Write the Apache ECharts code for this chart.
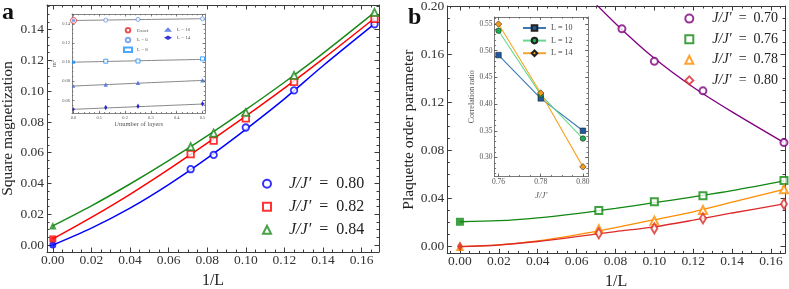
<!DOCTYPE html>
<html><head><meta charset="utf-8">
<script src="https://cdn.jsdelivr.net/npm/echarts@6/dist/echarts.min.js"></script>
<style>html,body{margin:0;padding:0;background:#fff}#c{width:789px;height:289px}</style>
</head><body><div id="c"></div><script>
// ---------- data ----------
const invLA = [1/14, 1/12, 1/10, 1/8, 1/6];
const magA080 = [0.0493, 0.0586, 0.0764, 0.1005, 0.1435];
const magA082 = [0.0591, 0.0679, 0.0823, 0.1060, 0.1470];
const magA084 = [0.0640, 0.0728, 0.0862, 0.1103, 0.1512];
const magA0 = [0.0000, 0.0040, 0.0125];          // extrapolated values at 1/L = 0
const fitXA = [0, 0.02, 0.04, 0.06, 0.08, 0.10, 0.12, 0.14, 1/6];
const fitA080 = [0.0000, 0.0110, 0.0240, 0.0393, 0.0565, 0.0752, 0.0950, 0.1165, 0.1437];
const fitA082 = [0.0040, 0.0180, 0.0330, 0.0492, 0.0662, 0.0838, 0.1020, 0.1210, 0.1474];
const fitA084 = [0.0125, 0.0255, 0.0397, 0.0549, 0.0710, 0.0880, 0.1058, 0.1246, 0.1512];

const layersX = [0.125, 0.25, 0.5];
const m2L6  = [0.1440, 0.1448, 0.1455];
const m2L8  = [0.1010, 0.1012, 0.1035];
const m2L10 = [0.0767, 0.0785, 0.0810];
const m2L14 = [0.0524, 0.0537, 0.0565];
const m2Zero = [0.1437, 0.1000, 0.0750, 0.0506]; // L=6,8,10,14 at 1/layers = 0
const m2Exact = 0.1437;
const fitLayersX = [0, 0.51];
const fitL6  = [0.1437, 0.1456];
const fitL8  = [0.1000, 0.1030];
const fitL10 = [0.0750, 0.0810];
const fitL14 = [0.0506, 0.0562];

const invLB  = [1/14, 1/10, 1/8, 1/6];
const invLB70 = [1/12, 1/10, 1/8, 1/6];
const plB070 = [0.1810, 0.1540, 0.1295, 0.0865];
const plB076 = [0.0300, 0.0374, 0.0423, 0.0549];
const plB078 = [0.0145, 0.0216, 0.0305, 0.0478];
const plB080 = [0.0111, 0.0152, 0.0235, 0.0355];
const plB0 = [0.0207, 0.0000, 0.0003];          // J/J'=0.76, 0.78, 0.80 at 1/L = 0
const fitXB70 = [0.06, 0.08, 0.10, 0.12, 0.14, 1/6];
const fitB070 = [0.2180, 0.1855, 0.1565, 0.1325, 0.1120, 0.0865];
const fitXB = [0, 0.02, 0.04, 0.06, 0.08, 0.10, 0.12, 0.14, 1/6];
const fitB076 = [0.0207, 0.0216, 0.0240, 0.0275, 0.0318, 0.0366, 0.0414, 0.0465, 0.0546];
const fitB078 = [0.0000, 0.0015, 0.0048, 0.0098, 0.0158, 0.0224, 0.0290, 0.0370, 0.0476];
const fitB080 = [0.0000, 0.0014, 0.0043, 0.0083, 0.0125, 0.0165, 0.0220, 0.0280, 0.0355];

const ratioX = [0.76, 0.78, 0.80];
const ratioL10 = [0.4915, 0.4105, 0.3500];
const ratioL12 = [0.5370, 0.4175, 0.3355];
const ratioL14 = [0.5495, 0.4205, 0.2825];

// tick labels
const ticksXMain = [0, 0.02, 0.04, 0.06, 0.08, 0.10, 0.12, 0.14, 0.16];
const ticksYA = [0, 0.02, 0.04, 0.06, 0.08, 0.10, 0.12, 0.14];
const ticksYB = [0, 0.04, 0.08, 0.12, 0.16, 0.20];
const ticksXInsA = [0, 0.1, 0.2, 0.3, 0.4, 0.5];
const ticksYInsA = [0.06, 0.08, 0.10, 0.12, 0.14];
const ticksXInsB = [0.76, 0.78, 0.80];
const ticksYInsB = [0.30, 0.35, 0.40, 0.45, 0.50, 0.55];

// ---------- helpers ----------
const FONT = "'Liberation Serif','DejaVu Serif',serif";
const zip = (xs, ys) => xs.map((x, i) => [x, ys[i]]);
function steps(min, max, step) {
  const out = [];
  for (let k = Math.ceil(min / step - 1e-9); k * step <= max + 1e-12; k++) out.push(+(k * step).toFixed(6));
  return out;
}
const xAxes = [], yAxes = [];
function addFrame(g, o) {
  const line = {color: o.lineColor, width: o.lineWidth};
  const lab = {fontFamily: FONT, fontSize: o.fontSize, color: o.labelColor};
  const res = {x: xAxes.length, y: yAxes.length};
  const bx = {gridIndex: g, type: 'value', min: o.xmin, max: o.xmax, splitLine: {show: false}, z: o.z, silent: true};
  const by = {gridIndex: g, type: 'value', min: o.ymin, max: o.ymax, splitLine: {show: false}, z: o.z, silent: true};
  const mx = steps(o.xmin, o.xmax, o.xMinorStep), my = steps(o.ymin, o.ymax, o.yMinorStep);
  xAxes.push(Object.assign({}, bx, {position: 'bottom',
    axisLine: {show: true, onZero: false, lineStyle: line},
    axisTick: {show: true, inside: true, length: o.major, customValues: o.xMajor, lineStyle: line},
    axisLabel: Object.assign({show: true, customValues: o.xMajor, formatter: v => v.toFixed(o.xDec), margin: o.xMargin}, lab),
    name: o.xName, nameLocation: 'middle', nameGap: o.xNameGap, nameTextStyle: o.xNameStyle}));
  xAxes.push(Object.assign({}, bx, {position: 'bottom', axisLine: {show: false, onZero: false},
    axisTick: {show: true, inside: true, length: o.minor, customValues: mx, lineStyle: line}, axisLabel: {show: false}}));
  xAxes.push(Object.assign({}, bx, {position: 'top', axisLine: {show: true, onZero: false, lineStyle: line},
    axisTick: {show: true, inside: true, length: o.major, customValues: o.xMajor, lineStyle: line}, axisLabel: {show: false}}));
  xAxes.push(Object.assign({}, bx, {position: 'top', axisLine: {show: false, onZero: false},
    axisTick: {show: true, inside: true, length: o.minor, customValues: mx, lineStyle: line}, axisLabel: {show: false}}));
  yAxes.push(Object.assign({}, by, {position: 'left',
    axisLine: {show: true, onZero: false, lineStyle: line},
    axisTick: {show: true, inside: true, length: o.major, customValues: o.yMajor, lineStyle: line},
    axisLabel: Object.assign({show: true, customValues: o.yMajor, formatter: v => v.toFixed(o.yDec), margin: o.yMargin}, lab),
    name: o.yName, nameLocation: 'middle', nameGap: o.yNameGap, nameTextStyle: o.yNameStyle}));
  yAxes.push(Object.assign({}, by, {position: 'left', axisLine: {show: false, onZero: false},
    axisTick: {show: true, inside: true, length: o.minor, customValues: my, lineStyle: line}, axisLabel: {show: false}}));
  yAxes.push(Object.assign({}, by, {position: 'right', axisLine: {show: true, onZero: false, lineStyle: line},
    axisTick: {show: true, inside: true, length: o.major, customValues: o.yMajor, lineStyle: line}, axisLabel: {show: false}}));
  yAxes.push(Object.assign({}, by, {position: 'right', axisLine: {show: false, onZero: false},
    axisTick: {show: true, inside: true, length: o.minor, customValues: my, lineStyle: line}, axisLabel: {show: false}}));
  return res;
}

// ---------- grids / frames ----------
const grids = [
  {left: 47, top: 5, width: 332, height: 247, outerBoundsMode: 'none', containLabel: false},
  {left: 72, top: 14, width: 133, height: 99.3, show: true, backgroundColor: '#fff', borderWidth: 0, z: 10, outerBoundsMode: 'none', containLabel: false},
  {left: 447.3, top: 6, width: 337.7, height: 247.3, outerBoundsMode: 'none', containLabel: false},
  {left: 494.5, top: 17, width: 93.5, height: 159.5, show: true, backgroundColor: '#fff', borderWidth: 0, z: 10, outerBoundsMode: 'none', containLabel: false}
];
const mainStyle = {lineColor: '#3a3a3a', lineWidth: 1, fontSize: 13.5, labelColor: '#333', major: 4.5, minor: 2.5, z: 1, xDec: 2, yDec: 2, xMargin: 1.5, yMargin: 3};
const nameMain = {fontFamily: FONT, fontSize: 15.5, color: '#222'};
const A = addFrame(0, Object.assign({}, mainStyle, {
  xmin: -0.003, xmax: 0.169, ymin: -0.0045, ymax: 0.156,
  xMajor: ticksXMain, yMajor: ticksYA, xMinorStep: 0.005, yMinorStep: 0.005,
  xName: '1/L', xNameGap: 20, xNameStyle: Object.assign({}, nameMain, {fontSize: 16}),
  yName: 'Square magnetization', yNameGap: 31, yNameStyle: nameMain}));
const IA = addFrame(1, {
  lineColor: '#666', lineWidth: 0.8, fontSize: 4.5, labelColor: '#555', major: 2.5, minor: 1.3, z: 11, xDec: 1, yDec: 2, xMargin: 2, yMargin: 2,
  xmin: -0.0058, xmax: 0.5097, ymin: 0.0464, ymax: 0.1505,
  xMajor: ticksXInsA, yMajor: ticksYInsA, xMinorStep: 0.02, yMinorStep: 0.005,
  xName: '1/number of layers', xNameGap: 7, xNameStyle: {fontFamily: FONT, fontSize: 6.5, color: '#555'},
  yName: 'm²', yNameGap: 13, yNameStyle: {fontFamily: FONT, fontSize: 6.5, color: '#555'}});
const B = addFrame(2, Object.assign({}, mainStyle, {
  xmin: -0.0065, xmax: 0.1672, ymin: -0.0055, ymax: 0.2,
  xMajor: ticksXMain, yMajor: ticksYB, xMinorStep: 0.005, yMinorStep: 0.01,
  xName: '1/L', xNameGap: 20, xNameStyle: Object.assign({}, nameMain, {fontSize: 16}),
  yName: 'Plaquette order parameter', yNameGap: 25, yNameStyle: nameMain}));
const IB = addFrame(3, {
  lineColor: '#555', lineWidth: 0.8, fontSize: 7.5, labelColor: '#555', major: 3, minor: 1.6, z: 11, xDec: 2, yDec: 2, xMargin: 2, yMargin: 2,
  xmin: 0.7581, xmax: 0.8024, ymin: 0.2645, ymax: 0.5627,
  xMajor: ticksXInsB, yMajor: ticksYInsB, xMinorStep: 0.005, yMinorStep: 0.01,
  xName: '{i|J/J′}', xNameGap: 5, xNameStyle: {fontFamily: FONT, fontSize: 9, color: '#555', rich: {i: {fontFamily: FONT, fontStyle: 'italic', fontSize: 9, color: '#555'}}},
  yName: 'Correlation ratio', yNameGap: 14, yNameStyle: {fontFamily: FONT, fontSize: 8, color: '#555'}});

// ---------- series ----------
const series = [];
function fit(ax, xs, ys, color, width, z) {
  series.push({type: 'line', xAxisIndex: ax.x, yAxisIndex: ax.y, data: zip(xs, ys), smooth: 0.3, showSymbol: false,
    lineStyle: {color: color, width: width}, z: z || 2, silent: true});
}
function pts(ax, name, data, symbol, size, color, filled, z, bw) {
  series.push({type: 'scatter', name: name, xAxisIndex: ax.x, yAxisIndex: ax.y, data: data, symbol: symbol, symbolSize: size,
    itemStyle: filled ? {color: color} : {color: '#fff', borderColor: color, borderWidth: bw || 1.8}, z: z || 3, silent: true});
}
// panel a
const cBlue = '#0000ff', cRed = '#ff0000', cGreen = '#1a8a1a';
fit(A, fitXA, fitA080, cBlue, 1.5);
fit(A, fitXA, fitA082, cRed, 1.5);
fit(A, fitXA, fitA084, cGreen, 1.5);
pts(A, 'a080', zip(invLA, magA080), 'circle', 6.5, cBlue);
pts(A, 'a082', zip(invLA, magA082), 'rect', 6.5, cRed);
pts(A, 'a084', zip(invLA, magA084), 'triangle', 7, cGreen);
pts(A, 'a080z', [[0, magA0[0]]], 'circle', 7, cBlue, true);
pts(A, 'a082z', [[0, magA0[1]]], 'rect', 7, cRed, true);
pts(A, 'a084z', [[0, magA0[2]]], 'triangle', 7.5, cGreen, true);
// inset a
const cL6 = '#6495ed', cL8 = '#1e90ff', cL10 = '#4169e1', cL14 = '#0000cd';
[fitL6, fitL8, fitL10, fitL14].forEach(f => fit(IA, fitLayersX, f, '#7a7a7a', 0.9, 12));
pts(IA, 'Exact', [[0, m2Exact]], 'circle', 6, '#e8282b', false, 13, 1);
pts(IA, 'L6', zip(layersX, m2L6), 'circle', 4, cL6, false, 13, 1);
pts(IA, 'L8', zip(layersX, m2L8), 'rect', 4, cL8, false, 13, 1);
pts(IA, 'La10', zip(layersX, m2L10), 'triangle', 4.5, cL10, true, 13);
pts(IA, 'La14', zip(layersX, m2L14), 'diamond', [3.2, 5.5], cL14, true, 13);
pts(IA, 'L6z', [[0, m2Zero[0]]], 'circle', 3.5, cL6, true, 14);
pts(IA, 'L8z', [[0, m2Zero[1]]], 'rect', 3.2, cL8, true, 14);
pts(IA, 'L10z', [[0, m2Zero[2]]], 'triangle', 3.5, cL10, true, 14);
pts(IA, 'L14z', [[0, m2Zero[3]]], 'diamond', [2.6, 4], cL14, true, 14);
// panel b
const cPurple = '#800080', cGreenB = '#118811', cOrange = '#ff8c00', cRedB = '#dc2a2a';
fit(B, fitXB70, fitB070, cPurple, 1.3);
fit(B, fitXB, fitB076, cGreenB, 1.3);
fit(B, fitXB, fitB078, cOrange, 1.3);
fit(B, fitXB, fitB080, cRedB, 1.3);
pts(B, 'b070', zip(invLB70, plB070), 'circle', 7, cPurple, false, 3, 2);
pts(B, 'b076', zip(invLB, plB076), 'rect', 7, cGreenB, false, 3, 2);
pts(B, 'b078', zip(invLB, plB078), 'triangle', 8, cOrange, false, 3, 2);
pts(B, 'b080', zip(invLB, plB080), 'diamond', [6, 10], cRedB, false, 3, 2);
pts(B, 'b076z', [[0, plB0[0]]], 'rect', 8, cGreenB, true);
pts(B, 'b078z', [[0, plB0[1]]], 'triangle', 8.5, cOrange, true);
pts(B, 'b080z', [[0, plB0[2]]], 'diamond', [6, 10], cRedB, true, 4);
// inset b
function ratioLine(name, ys, lineColor, symbol, size, fill) {
  series.push({type: 'line', name: name, xAxisIndex: IB.x, yAxisIndex: IB.y, data: zip(ratioX, ys), symbol: symbol, symbolSize: size,
    showSymbol: true, lineStyle: {color: lineColor, width: 1.1}, itemStyle: {color: fill, borderColor: '#222', borderWidth: 0.6}, z: 12, silent: true});
}
ratioLine('Lb10', ratioL10, '#3b78b8', 'rect', 5.5, '#1f5aa0');
ratioLine('Lb12', ratioL12, '#66d98c', 'circle', 5.5, '#1fae55');
ratioLine('Lb14', ratioL14, '#f7a52a', 'diamond', 6.5, '#f29a1e');

// ---------- legends ----------
const legendText = {a080: '0.80', a082: '0.82', a084: '0.84', b070: '0.70', b076: '0.76', b078: '0.78', b080: '0.80',
  Exact: 'Exact', L6: 'L = 6', L8: 'L = 8', La10: 'L = 10', La14: 'L = 14', Lb10: 'L = 10', Lb12: 'L = 12', Lb14: 'L = 14'};
const jj = n => '{s|}{i|J/J′}\u2002=\u2002' + legendText[n];
function legText(pad, fs) {
  return {fontFamily: FONT, fontSize: fs, color: '#222', lineHeight: 16,
    rich: {s: {width: pad}, i: {fontFamily: FONT, fontStyle: 'italic', fontSize: fs, color: '#222', lineHeight: 16}}};
}
const legends = [
  {data: ['a080', 'a082', 'a084'], left: 262, top: 175.7, orient: 'vertical', itemWidth: 8, itemHeight: 8, itemGap: 7,
    formatter: jj, textStyle: legText(13, 16), selectedMode: false, padding: 0},
  {data: ['b070', 'b076', 'b078', 'b080'], left: 684.3, top: 10.6, orient: 'vertical', itemWidth: 8, itemHeight: 8, itemGap: 4.6,
    formatter: jj, textStyle: legText(14, 14), selectedMode: false, padding: 0},
  {data: ['Exact', 'L6', 'L8'], left: 123, top: 27, orient: 'vertical', itemWidth: 8, itemHeight: 4.5, itemGap: 3.3,
    formatter: n => legendText[n], textStyle: {fontFamily: FONT, fontSize: 5, color: '#555', lineHeight: 5}, selectedMode: false, padding: 0, z: 20},
  {data: ['La10', 'La14'], left: 164, top: 27, orient: 'vertical', itemWidth: 8, itemHeight: 4.5, itemGap: 3.3,
    formatter: n => legendText[n], textStyle: {fontFamily: FONT, fontSize: 5, color: '#555', lineHeight: 5}, selectedMode: false, padding: 0, z: 20},
  {data: ['Lb10', 'Lb12', 'Lb14'], left: 522, top: 23.5, orient: 'vertical', itemWidth: 23, itemHeight: 7, itemGap: 3.6,
    formatter: n => legendText[n], textStyle: {fontFamily: FONT, fontSize: 8, color: '#444', lineHeight: 9}, selectedMode: false, padding: 0, z: 20}
];

const chart = echarts.init(document.getElementById('c'), null, {renderer: 'canvas'});
chart.setOption({
  animation: false,
  backgroundColor: '#fff',
  title: [
    {text: 'a', left: 2, top: 1, padding: 0, textStyle: {fontFamily: FONT, fontWeight: 'bold', fontSize: 24, color: '#111'}},
    {text: 'b', left: 408, top: 6, padding: 0, textStyle: {fontFamily: FONT, fontWeight: 'bold', fontSize: 24, color: '#111'}}
  ],
  grid: grids,
  xAxis: xAxes,
  yAxis: yAxes,
  legend: legends,
  series: series
});
</script></body></html>
